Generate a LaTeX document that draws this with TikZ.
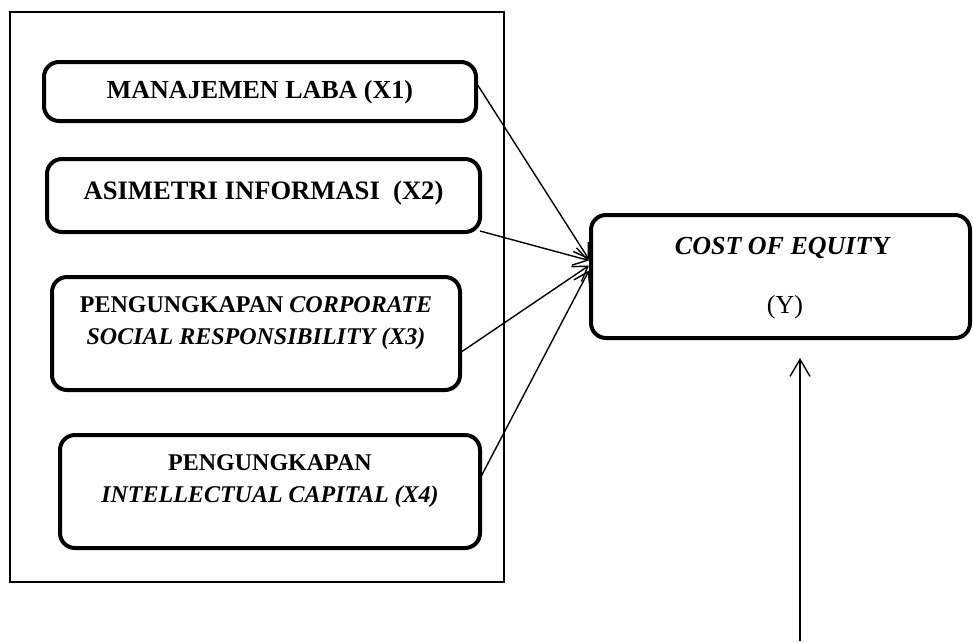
\documentclass[tikz,border=0pt]{standalone}
\usepackage{fontspec}
\setmainfont{Liberation Serif}
\usetikzlibrary{arrows.meta}
\begin{document}
\begin{tikzpicture}[x=1pt,y=-1pt,
  varbox/.style={draw, line width=4pt, rounded corners=15pt, inner sep=0pt},
  lbl/.style={align=center, font=\fontsize{26}{32}\selectfont\bfseries, inner sep=0pt},
  slbl/.style={align=center, font=\fontsize{24}{32}\selectfont\bfseries, inner sep=0pt},
  arr/.style={line width=1.4pt, -{Straight Barb[length=14pt,width=18pt,line width=1.4pt]}},
  varr/.style={line width=1.4pt, -{Straight Barb[length=17pt,width=20pt,line width=1.4pt]}}]
\useasboundingbox (0,0) rectangle (973,641);
% outer frame
\draw[line width=1.2pt] (10,12) rectangle (504,582);
% independent variables
\node[varbox, minimum width=432pt, minimum height=59pt] (x1) at (260,91.5) {};
\node[lbl] (x1t) at (260,92) {MANAJEMEN LABA (X1)};
\node[varbox, minimum width=433pt, minimum height=73pt] (x2) at (263.5,195.5) {};
\node[lbl, font=\fontsize{26.6}{32}\selectfont\bfseries] (x2t) at (263.5,193) {ASIMETRI INFORMASI\ \ (X2)};
\node[varbox, minimum width=408pt, minimum height=113pt] (x3) at (256,333.5) {};
\node[slbl] (x3t) at (256,323) {PENGUNGKAPAN \textit{CORPORATE}\\\textit{SOCIAL RESPONSIBILITY (X3)}};
\node[varbox, minimum width=420pt, minimum height=113pt] (x4) at (270,491.5) {};
\node[slbl] (x4t) at (270,481) {PENGUNGKAPAN\\\textit{INTELLECTUAL CAPITAL (X4)}};
% dependent variable
\node[varbox, minimum width=379pt, minimum height=123pt] (y) at (780.5,276.5) {};
\node[lbl] (yt1) at (783,248) {\textit{COST OF EQUIT}Y};
\node[lbl, font=\fontsize{26}{32}\selectfont] (yt2) at (785,307) {(Y)};
% connectors
\draw[arr] ([yshift=6pt]x1.east) -- ([yshift=17pt]y.west);
\draw[arr] ([xshift=-2pt,yshift=3pt]x2.south east) -- ([yshift=16pt]y.west);
\draw[arr] ([yshift=-18pt]x3.east) -- ([yshift=11pt]y.west);
\draw[arr] ([xshift=-2pt,yshift=13pt]x4.east) -- ([yshift=6pt]y.west);
\coordinate (vsrc) at (800,641);
\coordinate (vtip) at (800,358);
\draw[varr] (vsrc) -- (vtip);
\end{tikzpicture}
\end{document}
